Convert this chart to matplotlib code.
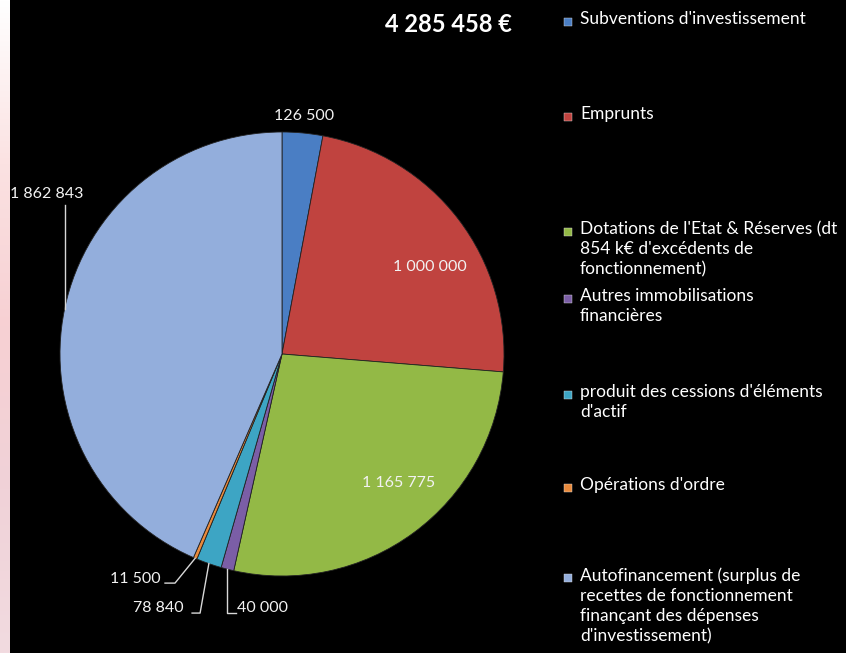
import numpy as np
import matplotlib
matplotlib.use("Agg")
import matplotlib.pyplot as plt
from matplotlib.colors import LinearSegmentedColormap

plt.rcParams['font.family'] = ['Lato', 'DejaVu Sans']

# ---- data ----
categories = [
    "Subventions d'investissement",
    "Emprunts",
    "Dotations de l'Etat & Réserves (dt\n854 k€ d'excédents de\nfonctionnement)",
    "Autres immobilisations\nfinancières",
    "produit des cessions d'éléments\nd'actif",
    "Opérations d'ordre",
    "Autofinancement (surplus de\nrecettes de fonctionnement\nfinançant des dépenses\nd'investissement)",
]
values = [126500, 1000000, 1165775, 40000, 78840, 11500, 1862843]
value_labels = ["126 500", "1 000 000", "1 165 775", "40 000", "78 840", "11 500", "1 862 843"]
total_label = "4 285 458 €"

colors = ['#4A7EC4', '#C0433F', '#93B946', '#7B5EA6', '#3DA5C4', '#E98A3C', '#93AEDC']

W, H = 846, 653
fig = plt.figure(figsize=(W / 100, H / 100), dpi=100, facecolor='black')

# left pink strip
sax = fig.add_axes([0, 0, 9 / W, 1])
grad = np.linspace(0, 1, 256)[:, None]
cm = LinearSegmentedColormap.from_list('s', ['#FFFFFF', '#FBE2E2', '#F7D0D3', '#F0D2D8', '#F2DBE0'])
sax.imshow(grad, aspect='auto', cmap=cm, extent=[0, 1, 0, 1], origin='upper')
sax.axis('off')

# pie axes: centre (282,354) px, radius 222 px
cx, cy, r = 282, 354, 222
ax = fig.add_axes([(cx - r) / W, (H - cy - r) / H, 2 * r / W, 2 * r / H])
ax.set_facecolor('none')
wedges, _ = ax.pie(values, colors=colors, startangle=90, counterclock=False,
                   radius=1.0, wedgeprops=dict(edgecolor='#222222', linewidth=0.6))
ax.set_xlim(-1, 1)
ax.set_ylim(-1, 1)
ax.set_aspect('equal')
ax.axis('off')

lab_col = '#F2F2F2'
lfs = 11.5

def mid_point(w, rr=1.0):
    a = np.deg2rad((w.theta1 + w.theta2) / 2)
    return rr * np.cos(a), rr * np.sin(a)

# inside / near labels
x0, y0 = mid_point(wedges[0], 1.075)
ax.text(x0, y0, value_labels[0], color=lab_col, fontsize=lfs, ha='center', va='center')
ax.text(0.667, 0.392, value_labels[1], color=lab_col, fontsize=lfs, ha='center', va='center')
ax.text(0.523, -0.581, value_labels[2], color=lab_col, fontsize=lfs, ha='center', va='center')

lc = '#D8D8D8'
# 1 862 843 (autofinancement)
ax_, ay_ = mid_point(wedges[6])
ax.plot([ax_, ax_], [ay_, 0.67], color=lc, lw=1, clip_on=False)
ax.text(-1.061, 0.72, value_labels[6], color=lab_col, fontsize=lfs, ha='center', va='center')

# 11 500 (opérations d'ordre)
ax_, ay_ = mid_point(wedges[5])
ax.plot([ax_, -0.482, -0.527], [ay_, -1.032, -1.032], color=lc, lw=1, clip_on=False)
ax.text(-0.545, -1.014, value_labels[5], color=lab_col, fontsize=lfs, ha='right', va='center')

# 78 840 (cessions)
ax_, ay_ = mid_point(wedges[4])
ax.plot([ax_, -0.369, -0.405], [ay_, -1.167, -1.167], color=lc, lw=1, clip_on=False)
ax.text(-0.441, -1.144, value_labels[4], color=lab_col, fontsize=lfs, ha='right', va='center')

# 40 000 (autres immobilisations)
ax_, ay_ = mid_point(wedges[3])
ax.plot([ax_, ax_, -0.207], [ay_, -1.167, -1.167], color=lc, lw=1, clip_on=False)
ax.text(-0.202, -1.144, value_labels[3], color=lab_col, fontsize=lfs, ha='left', va='center')

# total
fig.text(512 / W, 1 - 24 / H, total_label, color='white', fontsize=17, fontweight='bold',
         ha='right', va='center')

# legend (manual)
first_line_y = [22, 117, 232, 299, 395, 488, 578]
for lab, col, yy in zip(categories, colors, first_line_y):
    fig.patches.append(plt.Rectangle(((568 - 4) / W, 1 - (yy + 4) / H), 8 / W, 8 / H,
                                     transform=fig.transFigure, facecolor=col,
                                     edgecolor='#DDDDDD', linewidth=0.3))
    fig.text(580 / W, 1 - (yy - 11) / H, lab, color='white', fontsize=12.5, ha='left', va='top',
             linespacing=1.33)

fig.savefig('out.png', dpi=100, facecolor='black')
